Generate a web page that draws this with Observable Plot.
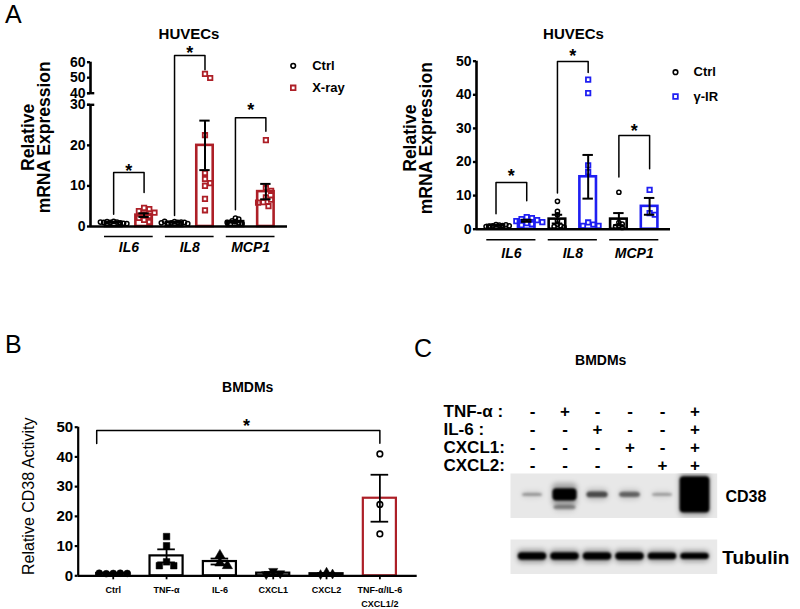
<!DOCTYPE html>
<html>
<head>
<meta charset="utf-8">
<script src="https://cdn.jsdelivr.net/npm/d3@7"></script>
<script src="https://cdn.jsdelivr.net/npm/@observablehq/plot@0.6"></script>
<style>
  html, body { margin: 0; padding: 0; background: #fff; }
  #fig { position: relative; width: 800px; height: 609px; overflow: hidden; background: #fff;
         font-family: "Liberation Sans", Arial, Helvetica, sans-serif; color: #000; }
  .abs { position: absolute; }
  .letter { position: absolute; font-size: 25px; line-height: 25px; }
</style>
</head>
<body>
<div id="fig">
  <div class="letter" style="left:5px;top:2px">A</div>
  <div class="letter" style="left:5px;top:332px">B</div>
  <div class="letter" style="left:414px;top:336px">C</div>
</div>
<script>
// ===================== DATA =====================
// Panel A – HUVECs
const genes = ["IL6", "IL8", "MCP1"];
const aTitle = "HUVECs";
const aYLabel = "Relative\nmRNA Expression";

// A left: Ctrl vs X-ray
const xraySeries = ["Ctrl", "X-ray"];
const xrayYTicks = [0, 10, 20, 30, 40, 50, 60];
const xrayCtrlPts = [
  [1.3, 1.1, 1.0, 0.9, 1.2, 0.8, 1.0, 0.7, 1.1],
  [1.2, 1.0, 0.9, 1.1, 0.8, 1.0, 1.3, 0.7, 0.9],
  [2.1, 1.8, 1.4, 1.2, 0.9, 0.7, 0.6, 1.0]
];
const xrayPts = [
  [4.6, 4.3, 3.8, 3.4, 3.0, 2.6, 2.1, 1.6, 1.1],
  [52.5, 49.8, 22.5, 13.2, 11.7, 10.7, 10.0, 6.8, 4.0],
  [21.3, 9.5, 8.8, 7.2, 6.6, 6.0, 5.9, 5.0]
];
const xrayCtrlMean = [1.0, 1.0, 1.2];
const xrayCtrlSem = [0.06, 0.06, 0.18];
const xrayMean = [2.8, 20.0, 8.6];
const xraySem = [0.45, 6.1, 1.9];
const xrayBracketTop = [13.3, 64.3, 26.8];
const xrayBracketLeft = [3.0, 2.7, 4.1];
const xrayBracketRight = [8.4, 55.1, 23.5];
const xrayStar = [14.5, 68.5, 29.6];

// A right: Ctrl vs γ-IR
const gammaSeries = ["Ctrl", "γ-IR"];
const gammaYTicks = [0, 10, 20, 30, 40, 50];
const gammaCtrlPts = [
  [1.4, 1.2, 1.0, 1.1, 0.9, 1.3, 0.8, 1.0],
  [8.3, 5.3, 4.3, 2.5, 1.5, 1.0, 0.8, 0.6],
  [11.0, 2.0, 1.5, 1.0, 0.8, 0.5]
];
const gammaPts = [
  [3.6, 3.3, 3.0, 2.7, 2.4, 2.1, 1.8, 1.5, 1.2],
  [44.5, 40.5, 19.0, 17.0, 2.0, 1.4, 1.0, 1.0],
  [11.7, 4.8, 4.3]
];
const gammaCtrlMean = [1.1, 3.0, 3.0];
const gammaCtrlSem = [0.07, 1.3, 1.8];
const gammaMean = [2.5, 15.6, 6.8];
const gammaSem = [0.3, 6.5, 2.5];
const gammaBracketTop = [13.9, 49.9, 27.9];
const gammaBracketLeft = [4.6, 10.8, 15.5];
const gammaBracketRight = [8.5, 46.6, 18.0];
const gammaStar = [16.9, 52.7, 30.2];

// Panel B – BMDMs CD38 activity
const bTitle = "BMDMs";
const bYLabel = "Relative CD38 Activity";
const bCategories = ["Ctrl", "TNF-α", "IL-6", "CXCL1", "CXCL2", "TNF-α/IL-6\nCXCL1/2"];
const bYTicks = [0, 10, 20, 30, 40, 50];
const bPoints = [
  [0.8, 0.9, 0.7, 0.8, 0.9],
  [13.2, 10.1, 4.7, 3.4, 3.4],
  [6.9, 4.3, 3.4],
  [1.6, 0.8, 0.5],
  [1.2, 0.6, 0.4],
  [41.0, 24.0, 14.1]
];
const bMean = [0.8, 6.7, 4.8, 0.9, 0.7, 26.1];
const bSem = [0.05, 2.2, 1.0, 0.35, 0.25, 7.9];
const bBracketTop = 48.9;
const bBracketLeft = 44.5;
const bBracketRight = 44.6;
const bStar = 51.7;

// Panel C – western blot
const cTitle = "BMDMs";
const cTreatments = ["TNF-α :", "IL-6 :", "CXCL1:", "CXCL2:"];
const cMatrix = [
  [0, 1, 0, 0, 0, 1],
  [0, 0, 1, 0, 0, 1],
  [0, 0, 0, 1, 0, 1],
  [0, 0, 0, 0, 1, 1]
];
const cd38Signal = [0.3, 2.4, 0.9, 0.7, 0.25, 8];
const cd38LowerSignal = [0, 0.5, 0, 0, 0, 0];
const tubulinSignal = [1, 1, 1, 1, 0.9, 0.85];

// ===================== STYLE / LAYOUT =====================
const FONT = '"Liberation Sans", Arial, Helvetica, sans-serif';
const RED = "#ad1f27";
const BLUE = "#1f1ff2";
const fig = document.getElementById("fig");
const baseStyle = {fontFamily: FONT, background: "none", overflow: "visible", color: "black"};

// broken y axis for the X-ray panel: 0–30 full scale, 40–60 compressed
const GAP_K = 0.286, UP_K = 0.382;
const brk = v => v <= 30 ? v : v < 40 ? 30 + (v - 30) * GAP_K : 30 + 10 * GAP_K + (v - 40) * UP_K;
const ident = v => v;

function place(svg, left, top) {
  const d = document.createElement("div");
  d.className = "abs";
  d.style.left = left + "px";
  d.style.top = top + "px";
  d.appendChild(svg);
  fig.appendChild(d);
}

// deterministic beeswarm-like horizontal spread (in pixels via the plot scales)
function dodge(values, ypx, center, ppu, diam) {
  const placed = [];
  return values.map(v => {
    const py = ypx(v);
    let off = 0;
    for (let k = 0; k < 80; k++) {
      const cand = k === 0 ? 0 : (k % 2 ? 1 : -1) * Math.ceil(k / 2) * diam * 0.5;
      if (placed.every(q => Math.hypot(cand - q.ox, py - q.py) >= diam)) { off = cand; break; }
    }
    placed.push({ox: off, py});
    return {v, x: center + off / ppu};
  });
}

function panelA(c) {
  const xS = Plot.scale({x: {domain: c.xDomain, range: [c.ml, c.width - c.mr]}});
  const yS = Plot.scale({y: {domain: c.yDomain, range: [c.height - c.mb, c.mt]}});
  const ypx = v => yS.apply(c.tf(v));
  const ppu = xS.apply(1) - xS.apply(0);
  const bars = [], pts = [];
  genes.forEach((g, i) => {
    bars.push({slot: 2 * i, mean: c.ctrlMean[i], sem: c.ctrlSem[i], color: "black"});
    bars.push({slot: 2 * i + 1, mean: c.treatMean[i], sem: c.treatSem[i], color: c.color});
    dodge(c.ctrlPts[i], ypx, 2 * i, ppu, 3.3).forEach(p => pts.push({...p, s: 0}));
    dodge(c.treatPts[i], ypx, 2 * i + 1, ppu, 5.2).forEach(p => pts.push({...p, s: 1}));
  });
  const caps = bars.flatMap(d => [{slot: d.slot, y: d.mean + d.sem}, {slot: d.slot, y: d.mean - d.sem}]);
  const brackets = genes.flatMap((g, i) => [
    {id: i, x: 2 * i, y: c.brLeft[i]}, {id: i, x: 2 * i, y: c.brTop[i]},
    {id: i, x: 2 * i + 1, y: c.brTop[i]}, {id: i, x: 2 * i + 1, y: c.brRight[i]}
  ]);
  const hw = 0.27;
  const ySpec = {domain: c.yDomain, axis: null};
  if (c.tf !== ident) ySpec.transform = c.tf;
  return Plot.plot({
    width: c.width, height: c.height,
    marginLeft: c.ml, marginRight: c.mr, marginTop: c.mt, marginBottom: c.mb,
    x: {domain: c.xDomain, axis: null},
    y: ySpec,
    style: baseStyle,
    marks: [
      Plot.rect(bars, {x1: d => d.slot - hw, x2: d => d.slot + hw, y1: 0, y2: "mean",
        fill: "white", stroke: "color", strokeWidth: 2.6}),
      Plot.dot(pts.filter(d => d.s === 0), {x: "x", y: "v", r: 2.1, stroke: "black", strokeWidth: 1.5}),
      Plot.dot(pts.filter(d => d.s === 1), {x: "x", y: "v", symbol: "square", r: 2.5, stroke: c.color, strokeWidth: 1.8}),
      Plot.ruleX(bars, {x: "slot", y1: d => d.mean - d.sem, y2: d => d.mean + d.sem, stroke: "black", strokeWidth: 2}),
      Plot.ruleY(caps, {y: "y", x1: d => d.slot - 0.17, x2: d => d.slot + 0.17, stroke: "black", strokeWidth: 2}),
      Plot.ruleY([0], {stroke: "black", strokeWidth: 2.6}),
      Plot.ruleX(c.axisSegments, {x: c.xDomain[0], y1: d => d[0], y2: d => d[1], stroke: "black", strokeWidth: 2.6}),
      Plot.ruleY(c.breakTicks, {x1: c.xDomain[0] - 0.1, x2: c.xDomain[0] + 0.14, stroke: "black", strokeWidth: 2.4}),
      Plot.ruleY(c.yTicks, {x1: c.xDomain[0] - 0.1, x2: c.xDomain[0], stroke: "black", strokeWidth: 2.4}),
      Plot.text(c.yTicks, {x: c.xDomain[0], y: d => d, text: d => String(d), dx: -5, textAnchor: "end",
        fontSize: 14, fontWeight: "bold"}),
      Plot.ruleY(genes, {y: 0, x1: (d, i) => 2 * i + 0.5 - 0.8, x2: (d, i) => 2 * i + 0.5 + 0.8,
        dy: c.ulDy, stroke: "black", strokeWidth: 1.4}),
      Plot.text(genes, {x: (d, i) => 2 * i + 0.5, y: 0, dy: c.lblDy, fontStyle: "italic",
        fontWeight: "bold", fontSize: 14}),
      Plot.line(brackets, {x: "x", y: "y", z: "id", stroke: "black", strokeWidth: 1.5}),
      Plot.text(genes, {x: (d, i) => 2 * i + 0.5, y: (d, i) => c.star[i], text: () => "*",
        fontSize: 18, fontWeight: "bold", dy: 4}),
      Plot.text([aTitle], {frameAnchor: "top", lineAnchor: "middle", dy: c.titleDy, fontWeight: "bold", fontSize: 15}),
      Plot.text([aYLabel], {frameAnchor: "left", textAnchor: "middle", lineAnchor: "middle", rotate: -90,
        dx: c.ylDx, dy: c.ylDy, fontWeight: "bold", fontSize: 17.5, lineHeight: 0.92}),
      Plot.dot([0], {frameAnchor: "top-right", dx: c.legDx, dy: c.legDy[0], r: 2.3, stroke: "black", strokeWidth: 1.6}),
      Plot.dot([0], {frameAnchor: "top-right", dx: c.legDx, dy: c.legDy[1], symbol: "square", r: 2.6,
        stroke: c.color, strokeWidth: 1.8}),
      Plot.text([c.series[0]], {frameAnchor: "top-right", textAnchor: "start", lineAnchor: "middle",
        dx: c.legTx, dy: c.legDy[0], fontWeight: "bold", fontSize: 13}),
      Plot.text([c.series[1]], {frameAnchor: "top-right", textAnchor: "start", lineAnchor: "middle",
        dx: c.legTx, dy: c.legDy[1], fontWeight: "bold", fontSize: 13})
    ]
  });
}

place(panelA({
  width: 400, height: 270, ml: 90, mr: 113, mt: 61.7, mb: 44,
  xDomain: [-0.76, 5.71], yDomain: [0, brk(60)], tf: brk,
  yTicks: xrayYTicks, axisSegments: [[0, 30], [40, 60]], breakTicks: [30, 40],
  color: RED, series: xraySeries,
  ctrlPts: xrayCtrlPts, treatPts: xrayPts, ctrlMean: xrayCtrlMean, ctrlSem: xrayCtrlSem,
  treatMean: xrayMean, treatSem: xraySem,
  brTop: xrayBracketTop, brLeft: xrayBracketLeft, brRight: xrayBracketRight, star: xrayStar,
  ulDy: 10, lblDy: 21, titleDy: -27.7, ylDx: -54, ylDy: -7,
  legDx: 5.7, legDy: [3.6, 25.6], legTx: 24.7
}), 0, 0);

place(panelA({
  width: 400, height: 270, ml: 76, mr: 130, mt: 60.7, mb: 41.3,
  xDomain: [-0.635, 5.68], yDomain: [0, 50], tf: ident,
  yTicks: gammaYTicks, axisSegments: [[0, 50]], breakTicks: [],
  color: BLUE, series: gammaSeries,
  ctrlPts: gammaCtrlPts, treatPts: gammaPts, ctrlMean: gammaCtrlMean, ctrlSem: gammaCtrlSem,
  treatMean: gammaMean, treatSem: gammaSem,
  brTop: gammaBracketTop, brLeft: gammaBracketLeft, brRight: gammaBracketRight, star: gammaStar,
  ulDy: 10.6, lblDy: 24, titleDy: -26.7, ylDx: -57.5, ylDy: -7,
  legDx: 5, legDy: [11, 35.3], legTx: 23
}), 400, 0);

// ---------- Panel B ----------
(function () {
  const c = {width: 420, height: 279, ml: 77.7, mr: 3.3, mt: 96.7, mb: 33.7, xDomain: [-0.657, 5.70], yDomain: [0, 50]};
  const xS = Plot.scale({x: {domain: c.xDomain, range: [c.ml, c.width - c.mr]}});
  const yS = Plot.scale({y: {domain: c.yDomain, range: [c.height - c.mb, c.mt]}});
  const ypx = v => yS.apply(v);
  const ppu = xS.apply(1) - xS.apply(0);
  const sym = ["circle", "square", "triangle", "triangle", "diamond", "circle"];
  const rot = [0, 0, 0, 180, 0, 0];
  const fil = ["black", "black", "black", "black", "black", "none"];
  const rad = [3.4, 3.7, 3.8, 3.4, 3.0, 2.8];
  const diam = [7, 7.2, 7.5, 7, 6, 6.5];
  const barColor = ["black", "black", "black", "black", "black", RED];
  const bars = bCategories.map((cat, i) => ({slot: i, mean: bMean[i], sem: bSem[i], color: barColor[i]}));
  const caps = bars.flatMap(d => [{slot: d.slot, y: d.mean + d.sem}, {slot: d.slot, y: d.mean - d.sem}]);
  const hw = 0.31;
  const dotMarks = bPoints.map((vals, i) =>
    Plot.dot(dodge(vals, ypx, i, ppu, diam[i]), {x: "x", y: "v", symbol: sym[i], rotate: rot[i], r: rad[i],
      fill: fil[i], stroke: "black", strokeWidth: fil[i] === "none" ? 1.6 : 0.5}));
  const last = bCategories.length - 1;
  const bracket = [
    {x: -hw, y: bBracketLeft}, {x: -hw, y: bBracketTop},
    {x: last, y: bBracketTop}, {x: last, y: bBracketRight}
  ];
  const svg = Plot.plot({
    width: c.width, height: c.height,
    marginLeft: c.ml, marginRight: c.mr, marginTop: c.mt, marginBottom: c.mb,
    x: {domain: c.xDomain, axis: null},
    y: {domain: c.yDomain, axis: null},
    style: baseStyle,
    marks: [
      Plot.rect(bars, {x1: d => d.slot - hw, x2: d => d.slot + hw, y1: 0, y2: "mean",
        fill: "white", stroke: "color", strokeWidth: 2.2}),
      ...dotMarks,
      Plot.ruleX(bars, {x: "slot", y1: d => d.mean - d.sem, y2: d => d.mean + d.sem, stroke: "black", strokeWidth: 1.8}),
      Plot.ruleY(caps, {y: "y", x1: d => d.slot - 0.165, x2: d => d.slot + 0.165, stroke: "black", strokeWidth: 1.8}),
      Plot.ruleY([0], {stroke: "black", strokeWidth: 2.2}),
      Plot.ruleX([c.yDomain], {x: c.xDomain[0], y1: d => d[0], y2: d => d[1], stroke: "black", strokeWidth: 2.2}),
      Plot.axisY({ticks: bYTicks, tickSize: 3, tickPadding: 2, fontSize: 15, fontWeight: "bold",
        label: null, strokeWidth: 2.2, tickFormat: d => String(d)}),
      Plot.axisX({ticks: d3.range(bCategories.length), tickSize: 4, tickFormat: () => "", label: null, strokeWidth: 1.8}),
      Plot.text(bCategories, {x: (d, i) => i, y: 0, dy: 8, lineAnchor: "top", lineHeight: 1.5,
        fontSize: 9, fontWeight: "bold"}),
      Plot.line(bracket, {x: "x", y: "y", stroke: "black", strokeWidth: 1.5}),
      Plot.text(["*"], {x: last / 2, y: bStar, fontSize: 18, fontWeight: "bold", dy: 4}),
      Plot.text([bTitle], {frameAnchor: "top", lineAnchor: "middle", dy: -40, fontWeight: "bold", fontSize: 14}),
      Plot.text([bYLabel], {frameAnchor: "left", textAnchor: "middle", lineAnchor: "middle", rotate: -90,
        dx: -49.4, dy: -5.2, fontSize: 16})
    ]
  });
  place(svg, 0, 330);
})();

// ---------- Panel C ----------
(function () {
  const lanes = d3.range(cMatrix[0].length);
  // treatment grid
  const cells = cTreatments.flatMap((t, r) => lanes.map(l => ({row: t, lane: l, on: cMatrix[r][l]})));
  const grid = Plot.plot({
    width: 400, height: 150, marginLeft: 115.75, marginRight: 89.25, marginTop: 80, marginBottom: 15,
    x: {domain: [-0.5, 5.5], axis: null},
    y: {type: "point", domain: cTreatments, padding: 0, axis: null},
    style: baseStyle,
    marks: [
      Plot.text([cTitle], {frameAnchor: "top", lineAnchor: "middle", dy: -50, dx: -13, fontWeight: "bold", fontSize: 14}),
      Plot.text(cTreatments, {y: d => d, frameAnchor: "left", textAnchor: "start", lineAnchor: "middle", dx: -72.75,
        fontWeight: "bold", fontSize: 17}),
      Plot.text(cells, {x: "lane", y: "row", text: d => d.on ? "+" : "-", fontWeight: "bold", fontSize: 17})
    ]
  });
  place(grid, 400, 330);

  function blot(bands, label, h, labelDx, labelDy, fontSize, bg) {
    const halo = bands.map(d => ({...d, th: Math.min(1.9, d.th * 1.7 + 0.08), hw: d.hw * 1.04, op: d.op * 0.3}));
    return Plot.plot({
      width: 400, height: h, marginLeft: 110, marginRight: 83.3, marginTop: 0, marginBottom: 0,
      x: {domain: [-0.677, 5.683], axis: null},
      y: {domain: [-1, 1], axis: null},
      opacity: {type: "identity"},
      style: {...baseStyle, overflow: "hidden"},
      marks: [
        Plot.frame({fill: bg, stroke: "none"}),
        Plot.rect(halo, {x1: d => d.lane - d.hw, x2: d => d.lane + d.hw, y1: d => d.yc - d.th / 2, y2: d => d.yc + d.th / 2,
          fill: "black", fillOpacity: "op", rx: 5, imageFilter: "blur(2.5px)", clip: true}),
        Plot.rect(bands, {x1: d => d.lane - d.hw, x2: d => d.lane + d.hw, y1: d => d.yc - d.th / 2, y2: d => d.yc + d.th / 2,
          fill: "black", fillOpacity: "op", rx: 4, imageFilter: "blur(1.3px)", clip: true}),
        Plot.text([label], {frameAnchor: "right", textAnchor: "start", lineAnchor: "middle", dx: labelDx, dy: labelDy,
          fontWeight: "bold", fontSize})
      ]
    });
  }
  const cdBands = [];
  lanes.forEach(l => {
    const s = cd38Signal[l];
    cdBands.push({lane: l, yc: 0.05, th: 0.09 + 0.19 * s, hw: Math.min(0.46, 0.3 + 0.03 * s), op: Math.min(1, 0.12 + 0.55 * s)});
    const s2 = cd38LowerSignal[l];
    if (s2 > 0) cdBands.push({lane: l, yc: -0.52, th: 0.09 + 0.19 * s2, hw: 0.34, op: Math.min(1, 0.1 + 0.5 * s2)});
  });
  place(blot(cdBands, "CD38", 45, 8.3, 0.9, 16, "#e8e8e8"), 400, 473.3);
  const tubBands = lanes.map(l => ({lane: l, yc: 0.04, th: 0.42 * tubulinSignal[l], hw: 0.44, op: 1}));
  place(blot(tubBands, "Tubulin", 35.3, 5, 1, 19, "#e9e9e9"), 400, 539);
})();
</script>
</body>
</html>
